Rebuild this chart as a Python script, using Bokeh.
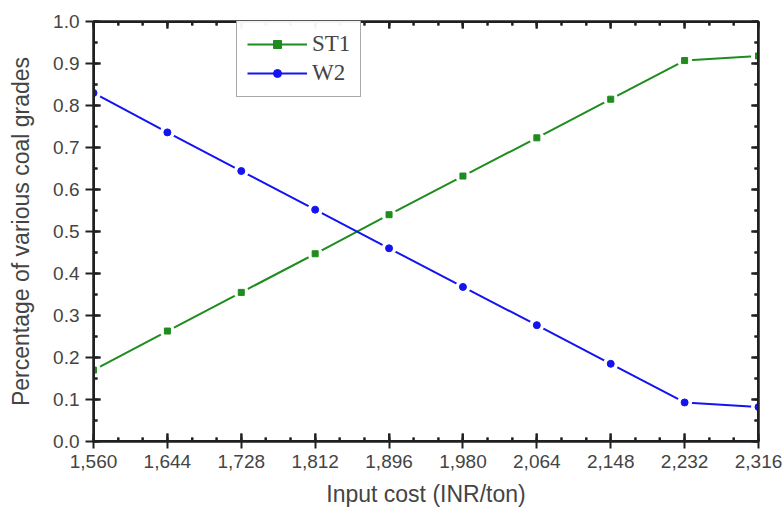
from bokeh.plotting import figure
from bokeh.models import (LinearAxis, FixedTicker, NumeralTickFormatter, Legend,
                          LegendItem, Range1d, CustomJSTickFormatter)
from bokeh.embed import file_html
from bokeh.resources import INLINE

# ---- data ----
input_cost = [1560, 1644, 1728, 1812, 1896, 1980, 2064, 2148, 2232, 2316]
st1 = [0.170, 0.263, 0.355, 0.447, 0.540, 0.632, 0.723, 0.815, 0.907, 0.918]
w2 = [0.830, 0.736, 0.644, 0.552, 0.460, 0.368, 0.277, 0.185, 0.093, 0.082]
x_ticks = [1560, 1644, 1728, 1812, 1896, 1980, 2064, 2148, 2232, 2316]
x_minor = list(range(1560, 2317, 28))
y_ticks = [0.0, 0.1, 0.2, 0.3, 0.4, 0.5, 0.6, 0.7, 0.8, 0.9, 1.0]
y_minor = [i * 0.05 for i in range(21)]
series_names = ["ST1", "W2"]

GREEN = "#1e8c1e"
BLUE = "#1414f0"
AX = "#202020"

W, H = 783, 509
ML, MR, MT, MB = 93, 25, 21, 67
x0, x1 = x_ticks[0], x_ticks[-1]
y0, y1 = y_ticks[0], y_ticks[-1]

p = figure(width=W, height=H, x_range=Range1d(x0, x1), y_range=Range1d(y0, y1),
           output_backend="svg", toolbar_location=None,
           min_border_left=ML, min_border_right=MR, min_border_top=MT, min_border_bottom=MB)
p.xgrid.visible = False
p.ygrid.visible = False
p.outline_line_color = AX
p.outline_line_width = 2

xt = FixedTicker(ticks=x_ticks, minor_ticks=x_minor)
yt = FixedTicker(ticks=y_ticks, minor_ticks=y_minor)


def style(ax, tin, tout, labels=True):
    ax.axis_line_color = AX
    ax.axis_line_width = 2
    ax.major_tick_line_color = AX
    ax.major_tick_line_width = 2
    ax.minor_tick_line_color = AX
    ax.minor_tick_line_width = 2
    ax.major_tick_in = tin
    ax.major_tick_out = tout
    ax.minor_tick_in = 4
    ax.minor_tick_out = 0
    if labels:
        ax.major_label_text_font_size = "19px"
        ax.axis_label_text_font_size = "23px"
        ax.axis_label_text_font_style = "normal"
    else:
        ax.formatter = CustomJSTickFormatter(code="return '';")
        ax.major_label_text_font_size = "2px"
        ax.major_label_standoff = 0


xa = p.xaxis[0]
xa.ticker = xt
xa.formatter = NumeralTickFormatter(format="0,0")
xa.axis_label = "Input cost (INR/ton)"
style(xa, 8, 7)
xa.major_label_standoff = 6
xa.axis_label_standoff = 10

ya = p.yaxis[0]
ya.ticker = yt
ya.formatter = NumeralTickFormatter(format="0.0")
ya.axis_label = "Percentage of various coal grades"
style(ya, 7, 8)
ya.major_label_standoff = 6
ya.axis_label_standoff = 16

top = LinearAxis(ticker=xt)
style(top, 7, 0, labels=False)
p.add_layout(top, "above")
right = LinearAxis(ticker=yt)
style(right, 7, 0, labels=False)
p.add_layout(right, "right")

# ---- series ----
st_line = p.line(input_cost, st1, line_color=GREEN, line_width=2)
w_line = p.line(input_cost, w2, line_color=BLUE, line_width=2)
# gaps around symbols
p.scatter(x=input_cost, y=st1, marker="circle", size=15, fill_color="#ffffff", line_color=None)
p.scatter(x=input_cost, y=w2, marker="circle", size=15, fill_color="#ffffff", line_color=None)
st_mark = p.scatter(x=input_cost, y=st1, marker="square", size=6, fill_color=GREEN, line_color=GREEN)
w_mark = p.scatter(x=input_cost, y=w2, marker="circle", size=7, fill_color=BLUE, line_color=BLUE)

# ---- frame and inward ticks drawn as glyphs (derived from the tick arrays) ----
px = (x1 - x0) / (W - ML - MR)
py = (y1 - y0) / (H - MT - MB)
p.segment(x0=[x0, x0, x0, x1], y0=[y0, y1, y0, y0], x1=[x1, x1, x0, x1], y1=[y0, y1, y1, y1],
          line_color=AX, line_width=3)
maj_x = [t for t in x_ticks]
min_x = [t for t in x_minor if t not in x_ticks]
maj_y = [t for t in y_ticks]
min_y = [t for t in y_minor if all(abs(t - m) > 1e-9 for m in y_ticks)]
# bottom and top
p.segment(x0=maj_x + maj_x, y0=[y0] * len(maj_x) + [y1] * len(maj_x),
          x1=maj_x + maj_x, y1=[y0 + 8 * py] * len(maj_x) + [y1 - 7 * py] * len(maj_x),
          line_color=AX, line_width=2)
p.segment(x0=min_x + min_x, y0=[y0] * len(min_x) + [y1] * len(min_x),
          x1=min_x + min_x, y1=[y0 + 4 * py] * len(min_x) + [y1 - 4 * py] * len(min_x),
          line_color=AX, line_width=2)
# left and right
p.segment(x0=[x0] * len(maj_y) + [x1] * len(maj_y), y0=maj_y + maj_y,
          x1=[x0 + 7 * px] * len(maj_y) + [x1 - 7 * px] * len(maj_y), y1=maj_y + maj_y,
          line_color=AX, line_width=2)
p.segment(x0=[x0] * len(min_y) + [x1] * len(min_y), y0=min_y + min_y,
          x1=[x0 + 4 * px] * len(min_y) + [x1 - 4 * px] * len(min_y), y1=min_y + min_y,
          line_color=AX, line_width=2)

legend = Legend(items=[
    LegendItem(label=series_names[0], renderers=[st_line, st_mark]),
    LegendItem(label=series_names[1], renderers=[w_line, w_mark]),
])
legend.label_text_font = "Liberation Serif"
legend.label_text_font_size = "23px"
legend.glyph_width = 60
legend.border_line_color = "#555555"
legend.location = (143, 344)
p.add_layout(legend)

open("out.html", "w").write(file_html(p, INLINE))
